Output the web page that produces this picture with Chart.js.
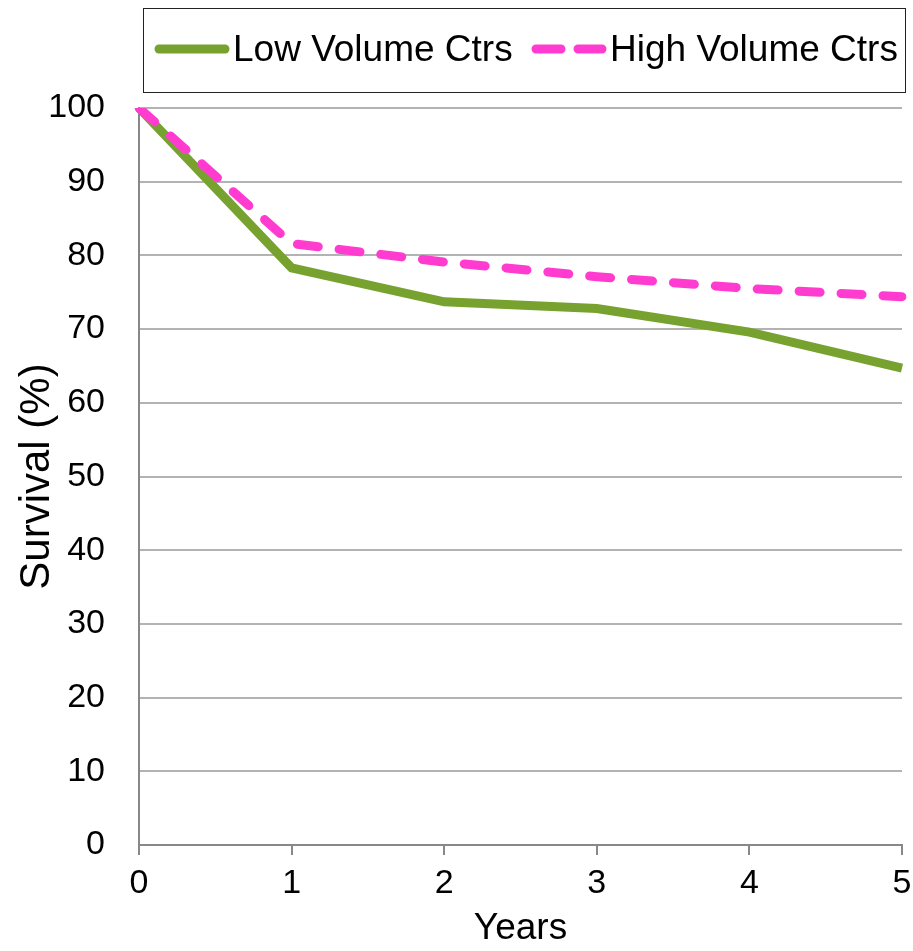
<!DOCTYPE html>
<html>
<head>
<meta charset="utf-8">
<script src="https://cdn.jsdelivr.net/npm/chart.js@4"></script>
<style>
  html, body { margin: 0; padding: 0; background: #fff; }
  #survie { display: block; }
</style>
</head>
<body>
<canvas id="survie"></canvas>
<script>
// valeurs
const years = ['0', '1', '2', '3', '4', '5'];
const lowVolume = [100, 78.3, 73.7, 72.8, 69.6, 64.7];
const highVolume = [100, 81.6, 79.1, 77.1, 75.5, 74.4];
const seriesNames = ['Low Volume Ctrs', 'High Volume Ctrs'];

const canvas = document.getElementById('survie');
canvas.width = 913;
canvas.height = 951;

const police = 'Liberation Sans, Arial, sans-serif';

// légende encadrée, dessinée à partir des datasets
const cadreLegende = {
    id: 'cadreLegende',
    afterDraw(chart) {
        const ctx = chart.ctx;
        ctx.save();
        ctx.strokeStyle = '#222';
        ctx.lineWidth = 1;
        ctx.strokeRect(143.5, 8.5, 762, 84);
        const items = [
            { x: 159, texte: 233 },
            { x: 536, texte: 610 }
        ];
        chart.data.datasets.forEach((ds, i) => {
            const it = items[i];
            ctx.strokeStyle = ds.borderColor;
            ctx.lineWidth = 9;
            ctx.lineCap = 'round';
            ctx.setLineDash(ds.borderDash ? [25, 17] : []);
            ctx.beginPath();
            ctx.moveTo(it.x, 49);
            ctx.lineTo(it.x + 66, 49);
            ctx.stroke();
            ctx.setLineDash([]);
            ctx.fillStyle = '#000';
            ctx.font = '37px ' + police;
            ctx.textBaseline = 'alphabetic';
            ctx.fillText(ds.label, it.texte, 61);
        });
        ctx.restore();
    }
};

const ctx = canvas.getContext('2d');
const survieChart = new Chart(ctx, {
    type: 'line',
    data: {
        labels: years,
        datasets: [{
            label: seriesNames[0],
            data: lowVolume,
            borderColor: '#77A22F',
            backgroundColor: '#77A22F',
            borderWidth: 9,
            pointRadius: 0,
            tension: 0,
            order: 1
        }, {
            label: seriesNames[1],
            data: highVolume,
            borderColor: '#FF3CCF',
            backgroundColor: '#FF3CCF',
            borderWidth: 9,
            borderDash: [21, 21],
            borderCapStyle: 'round',
            pointRadius: 0,
            tension: 0,
            order: 0
        }]
    },
    options: {
        responsive: false,
        animation: false,
        layout: {
            padding: { top: 108, right: 0, bottom: 0, left: 0 }
        },
        plugins: {
            legend: { display: false },
            tooltip: { enabled: false }
        },
        scales: {
            x: {
                offset: false,
                grid: {
                    drawOnChartArea: false,
                    drawTicks: true,
                    tickLength: 10,
                    color: '#888',
                    lineWidth: 2
                },
                border: { color: '#888', width: 2 },
                ticks: {
                    color: '#000',
                    padding: 8,
                    maxRotation: 0,
                    font: { family: police, size: 34 }
                },
                title: {
                    display: true,
                    text: 'Years',
                    color: '#000',
                    padding: { top: 0, bottom: 0 },
                    font: { family: police, size: 37 }
                },
                afterFit(scale) {
                    scale.height = 106;
                    scale.paddingRight = 11;
                }
            },
            y: {
                min: 0,
                max: 100,
                ticks: {
                    stepSize: 10,
                    color: '#000',
                    padding: 34,
                    font: { family: police, size: 34 }
                },
                grid: {
                    color: '#b3b3b3',
                    lineWidth: 2,
                    drawTicks: false
                },
                border: { color: '#888', width: 2 },
                title: {
                    display: true,
                    text: 'Survival (%)',
                    color: '#000',
                    padding: { top: 12, bottom: 0 },
                    font: { family: police, size: 42 }
                },
                afterFit(scale) { scale.width = 139; }
            }
        }
    },
    plugins: [cadreLegende]
});
</script>
</body>
</html>
